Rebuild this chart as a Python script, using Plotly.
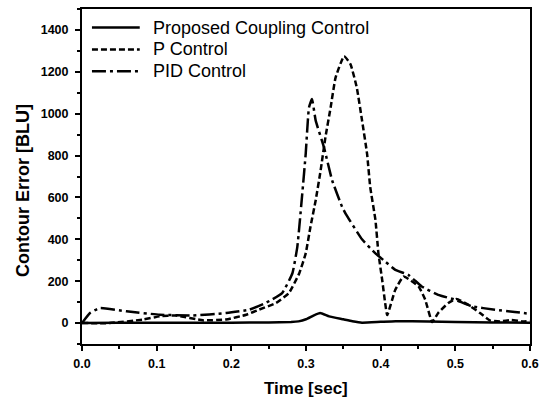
import plotly.graph_objects as go

# ---- data ----
t_prop = [0, 0.05, 0.1, 0.15, 0.2, 0.25, 0.28, 0.29, 0.3, 0.31, 0.319, 0.331, 0.35, 0.362, 0.375,
          0.4, 0.42, 0.464, 0.5, 0.55, 0.6]
v_prop = [0, 1, 2, 2, 2, 3, 5, 8, 18, 36, 48, 32, 18, 9, 2,
          6, 9, 7, 5, 3, 2]

t_p = [0, 0.037, 0.082, 0.104, 0.126, 0.162, 0.193, 0.22, 0.237, 0.26, 0.277, 0.291, 0.2996, 0.306,
       0.313, 0.3196, 0.326, 0.333, 0.3396, 0.351, 0.3596, 0.368, 0.3751, 0.3818, 0.386, 0.393,
       0.397, 0.402, 0.406, 0.4088, 0.4196, 0.4307, 0.4507, 0.4596, 0.469, 0.477, 0.4907, 0.5018,
       0.517, 0.533, 0.546, 0.56, 0.575, 0.59, 0.6]
v_p = [0, 0, 17, 32, 36, 13, 17, 40, 64, 96, 143, 238, 333, 460,
       587, 729, 887, 1030, 1172, 1275, 1236, 1125, 967, 808, 650, 492,
       333, 207, 96, 38, 159, 222, 175, 112, 5, 48, 96, 115,
       88, 48, 13, 8, 15, 8, 10]

t_pid = [0, 0.0107, 0.024, 0.0596, 0.104, 0.148, 0.193, 0.224, 0.246, 0.268, 0.2818, 0.2884,
         0.295, 0.2996, 0.304, 0.308, 0.313, 0.324, 0.335, 0.3484, 0.353, 0.375, 0.393, 0.406,
         0.4196, 0.437, 0.455, 0.477, 0.4996, 0.5218, 0.553, 0.5796, 0.6]
v_pid = [0, 48, 72, 56, 40, 36, 48, 64, 96, 143, 238, 365,
         618, 808, 1030, 1070, 967, 840, 682, 555, 523, 400, 333, 294,
         254, 230, 175, 135, 112, 80, 64, 53, 44]

names = ["Proposed Coupling Control", "P Control", "PID Control"]
dashes = ["solid", "6px,3px", "14px,4px,3px,4px"]

x_ticks = [0.0, 0.1, 0.2, 0.3, 0.4, 0.5, 0.6]
y_ticks = [0, 200, 400, 600, 800, 1000, 1200, 1400]

fig = go.Figure()
for t, v, n, d in zip([t_prop, t_p, t_pid], [v_prop, v_p, v_pid], names, dashes):
    fig.add_trace(go.Scatter(x=t, y=v, mode="lines", name=n, showlegend=False,
                             line=dict(color="black", width=2.5, dash=d,
                                       shape="spline", smoothing=0.4)))

# manual legend (long line samples as in the reference)
leg_y_px = [26, 48, 70]
plot_top, plot_bot, plot_l, plot_r = 7.3, 344.3, 82, 532
for n, d, ypx in zip(names, dashes, leg_y_px):
    yp = (plot_bot - ypx) / (plot_bot - plot_top)
    fig.add_shape(type="line", xref="paper", yref="paper",
                  x0=(92 - plot_l) / (plot_r - plot_l), x1=(140 - plot_l) / (plot_r - plot_l),
                  y0=yp, y1=yp, line=dict(color="black", width=2.5, dash=d))
    fig.add_annotation(text=n, xref="paper", yref="paper",
                       x=(151 - plot_l) / (plot_r - plot_l), y=yp, xanchor="left", yanchor="middle",
                       showarrow=False, font=dict(family="Arial, Liberation Sans", size=18, color="black"))

fig.add_annotation(text="<b>Contour Error [BLU]</b>", xref="paper", yref="paper",
                   x=(22 - plot_l) / (plot_r - plot_l), y=(plot_bot - 190) / (plot_bot - plot_top),
                   textangle=-90, showarrow=False, xanchor="center", yanchor="middle",
                   font=dict(family="Arial, Liberation Sans", size=18, color="black"))
fig.add_annotation(text="<b>Time [sec]</b>", xref="paper", yref="paper",
                   x=0.5, y=(plot_bot - 389) / (plot_bot - plot_top),
                   showarrow=False, xanchor="center", yanchor="middle",
                   font=dict(family="Arial, Liberation Sans", size=17, color="black"))

axis_common = dict(showgrid=False, zeroline=False, showline=True, linecolor="black", linewidth=2,
                   mirror=True, ticks="outside", ticklen=5, tickwidth=1.5, tickcolor="black",
                   tickfont=dict(family="Arial, Liberation Sans", size=12.5, color="black", weight="bold"))

fig.update_xaxes(range=[0, 0.6], tickvals=x_ticks, ticktext=[f"{v:.1f}" for v in x_ticks],
                 ticklabelstandoff=2,
                 minor=dict(dtick=0.05, tick0=0, ticks="outside", ticklen=3, tickcolor="black", tickwidth=1.5),
                 **axis_common)
fig.update_yaxes(range=[-100, 1500], tickvals=y_ticks, ticktext=[str(v) for v in y_ticks],
                 ticklabelstandoff=4,
                 minor=dict(dtick=100, tick0=0, ticks="outside", ticklen=3, tickcolor="black", tickwidth=1.5),
                 **axis_common)

fig.update_layout(width=546, height=402, margin=dict(l=82, r=14, t=7, b=58),
                  paper_bgcolor="white", plot_bgcolor="white", showlegend=False)

fig.write_html("out.html")
